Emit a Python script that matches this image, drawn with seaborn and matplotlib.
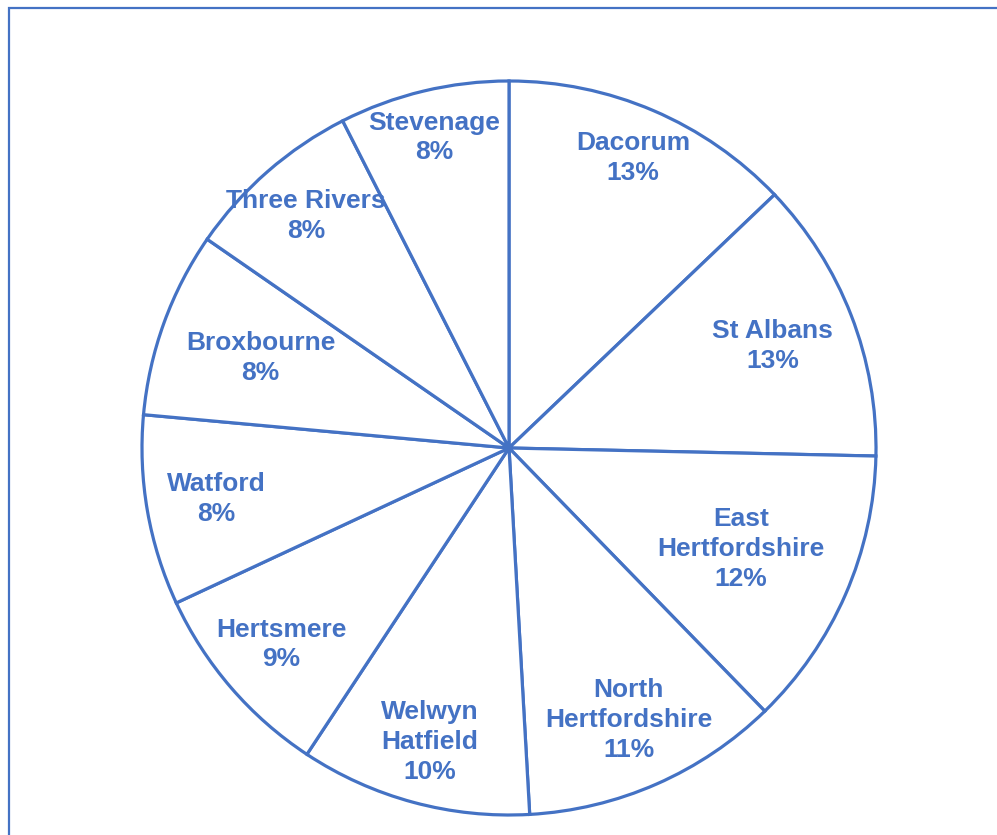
"""
Hertfordshire district share pie chart (white wedges, blue outlines).
"""

import matplotlib
matplotlib.use("Agg")
import matplotlib.pyplot as plt
import seaborn as sns
from matplotlib.patches import Rectangle
import numpy as np

sns.set_theme(style="white")
plt.rcParams["font.family"] = ["Liberation Sans", "DejaVu Sans"]

BLUE = "#4472C4"

# data, clockwise from 12 o'clock
districts = ["Dacorum", "St Albans", "East\nHertfordshire", "North\nHertfordshire",
             "Welwyn\nHatfield", "Hertsmere", "Watford", "Broxbourne",
             "Three Rivers", "Stevenage"]
shares = [12.9, 12.5, 12.4, 11.4, 10.2, 8.8, 8.4, 8.2, 7.9, 7.5]
pct_labels = ["13%", "13%", "12%", "11%", "10%", "9%", "8%", "8%", "8%", "8%"]

# radial position of each label (fraction of radius), as placed in the original
label_dist = [0.86, 0.77, 0.69, 0.81, 0.83, 0.82, 0.81, 0.72, 0.84, 0.87]

W, H = 997, 835
fig = plt.figure(figsize=(W / 100, H / 100), dpi=100)
fig.patch.set_facecolor("white")

cx, cy, r = 509, 448, 367
ax = fig.add_axes([(cx - r) / W, (H - cy - r) / H, 2 * r / W, 2 * r / H])

wedges, _ = ax.pie(shares, startangle=90, counterclock=False,
                   colors=["white"] * len(shares),
                   wedgeprops=dict(edgecolor=BLUE, linewidth=2.3))
for w in wedges:
    w.set_clip_on(False)

for w, name, pct, d in zip(wedges, districts, pct_labels, label_dist):
    mid = np.deg2rad((w.theta1 + w.theta2) / 2)
    ax.text(d * np.cos(mid), d * np.sin(mid), f"{name}\n{pct}",
            ha="center", va="center", color=BLUE, fontsize=19,
            fontweight="bold", linespacing=1.3)

ax.set_xlim(-1, 1)
ax.set_ylim(-1, 1)
ax.set_aspect("equal")
ax.axis("off")

# outer chart frame (only top and left edges visible in the crop)
fig.add_artist(Rectangle((8.5 / W, -0.1), 1.2, (H - 8) / H + 0.1,
                         transform=fig.transFigure, fill=False,
                         edgecolor=BLUE, linewidth=1.6, clip_on=False))

fig.savefig("out.png", dpi=100)
